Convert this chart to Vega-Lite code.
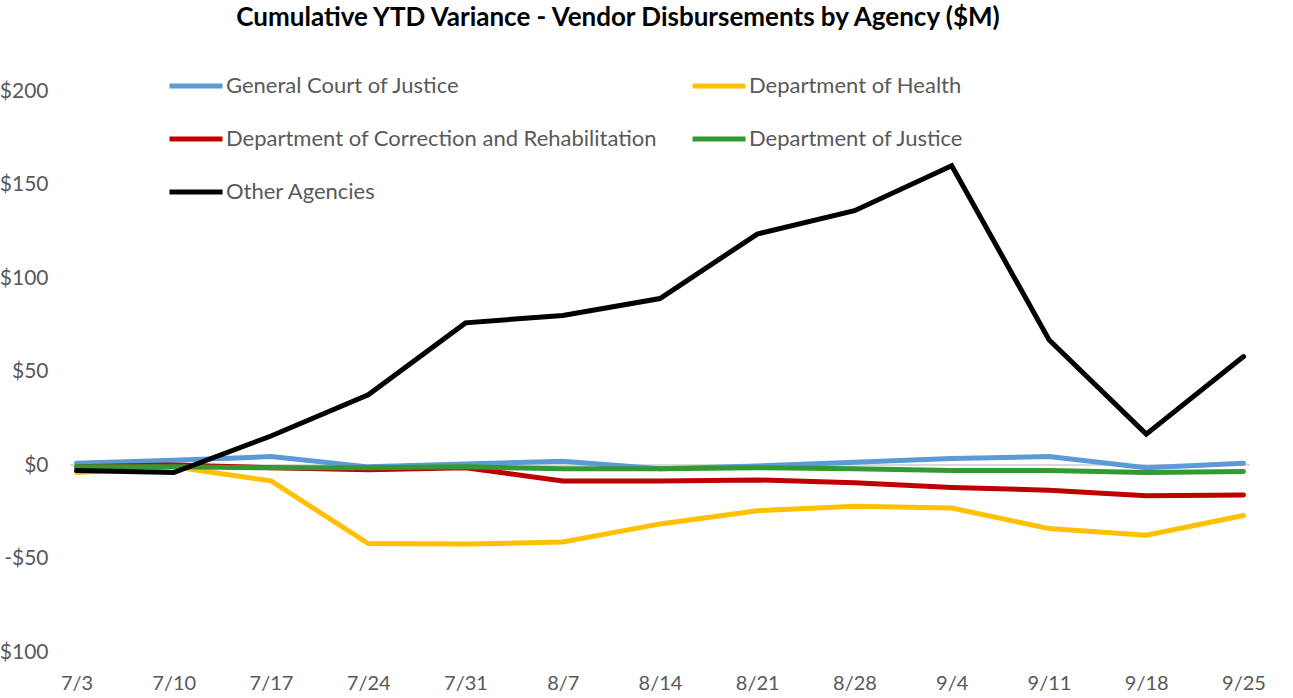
{
  "$schema": "https://vega.github.io/schema/vega-lite/v6.json",
  "width": 1180,
  "height": 561,
  "autosize": {"type": "none"},
  "padding": {"left": 70, "top": 91, "right": 43, "bottom": 46},
  "background": "white",
  "title": {
    "text": "Cumulative YTD Variance - Vendor Disbursements by Agency ($M)",
    "font": "Lato",
    "fontSize": 26,
    "fontWeight": "bold",
    "color": "#000000",
    "anchor": "middle",
    "dx": -42,
    "offset": 26
  },
  "config": {
    "view": {"stroke": null},
    "font": "Lato"
  },
  "data": {
    "values": [
      {"week": "7/3", "agency": "General Court of Justice", "value": 1},
      {"week": "7/10", "agency": "General Court of Justice", "value": 2.5},
      {"week": "7/17", "agency": "General Court of Justice", "value": 4.5},
      {"week": "7/24", "agency": "General Court of Justice", "value": -1},
      {"week": "7/31", "agency": "General Court of Justice", "value": 0.5},
      {"week": "8/7", "agency": "General Court of Justice", "value": 2},
      {"week": "8/14", "agency": "General Court of Justice", "value": -2},
      {"week": "8/21", "agency": "General Court of Justice", "value": -0.5},
      {"week": "8/28", "agency": "General Court of Justice", "value": 1.5},
      {"week": "9/4", "agency": "General Court of Justice", "value": 3.5},
      {"week": "9/11", "agency": "General Court of Justice", "value": 4.5},
      {"week": "9/18", "agency": "General Court of Justice", "value": -1.5},
      {"week": "9/25", "agency": "General Court of Justice", "value": 1},
      {"week": "7/3", "agency": "Department of Health", "value": -4},
      {"week": "7/10", "agency": "Department of Health", "value": -1},
      {"week": "7/17", "agency": "Department of Health", "value": -8.5},
      {"week": "7/24", "agency": "Department of Health", "value": -42},
      {"week": "7/31", "agency": "Department of Health", "value": -42.3},
      {"week": "8/7", "agency": "Department of Health", "value": -41.2},
      {"week": "8/14", "agency": "Department of Health", "value": -31.5},
      {"week": "8/21", "agency": "Department of Health", "value": -24.5},
      {"week": "8/28", "agency": "Department of Health", "value": -22},
      {"week": "9/4", "agency": "Department of Health", "value": -23},
      {"week": "9/11", "agency": "Department of Health", "value": -34},
      {"week": "9/18", "agency": "Department of Health", "value": -37.5},
      {"week": "9/25", "agency": "Department of Health", "value": -27},
      {"week": "7/3", "agency": "Department of Correction and Rehabilitation", "value": -1},
      {"week": "7/10", "agency": "Department of Correction and Rehabilitation", "value": 0},
      {"week": "7/17", "agency": "Department of Correction and Rehabilitation", "value": -1.5},
      {"week": "7/24", "agency": "Department of Correction and Rehabilitation", "value": -2.5},
      {"week": "7/31", "agency": "Department of Correction and Rehabilitation", "value": -1.5},
      {"week": "8/7", "agency": "Department of Correction and Rehabilitation", "value": -8.5},
      {"week": "8/14", "agency": "Department of Correction and Rehabilitation", "value": -8.5},
      {"week": "8/21", "agency": "Department of Correction and Rehabilitation", "value": -8},
      {"week": "8/28", "agency": "Department of Correction and Rehabilitation", "value": -9.5},
      {"week": "9/4", "agency": "Department of Correction and Rehabilitation", "value": -12},
      {"week": "9/11", "agency": "Department of Correction and Rehabilitation", "value": -13.5},
      {"week": "9/18", "agency": "Department of Correction and Rehabilitation", "value": -16.5},
      {"week": "9/25", "agency": "Department of Correction and Rehabilitation", "value": -16},
      {"week": "7/3", "agency": "Department of Justice", "value": -1},
      {"week": "7/10", "agency": "Department of Justice", "value": -1},
      {"week": "7/17", "agency": "Department of Justice", "value": -1.5},
      {"week": "7/24", "agency": "Department of Justice", "value": -1.5},
      {"week": "7/31", "agency": "Department of Justice", "value": -1},
      {"week": "8/7", "agency": "Department of Justice", "value": -2},
      {"week": "8/14", "agency": "Department of Justice", "value": -2},
      {"week": "8/21", "agency": "Department of Justice", "value": -1.5},
      {"week": "8/28", "agency": "Department of Justice", "value": -2},
      {"week": "9/4", "agency": "Department of Justice", "value": -3},
      {"week": "9/11", "agency": "Department of Justice", "value": -3},
      {"week": "9/18", "agency": "Department of Justice", "value": -4},
      {"week": "9/25", "agency": "Department of Justice", "value": -3.5},
      {"week": "7/3", "agency": "Other Agencies", "value": -3},
      {"week": "7/10", "agency": "Other Agencies", "value": -4},
      {"week": "7/17", "agency": "Other Agencies", "value": 15.5},
      {"week": "7/24", "agency": "Other Agencies", "value": 37.5},
      {"week": "7/31", "agency": "Other Agencies", "value": 76},
      {"week": "8/7", "agency": "Other Agencies", "value": 80},
      {"week": "8/14", "agency": "Other Agencies", "value": 89},
      {"week": "8/21", "agency": "Other Agencies", "value": 123.5},
      {"week": "8/28", "agency": "Other Agencies", "value": 136},
      {"week": "9/4", "agency": "Other Agencies", "value": 160},
      {"week": "9/11", "agency": "Other Agencies", "value": 67},
      {"week": "9/18", "agency": "Other Agencies", "value": 16.5},
      {"week": "9/25", "agency": "Other Agencies", "value": 58}
    ]
  },
  "encoding": {
    "x": {
      "field": "week",
      "type": "nominal",
      "sort": null,
      "scale": {"type": "point", "padding": 0.067},
      "axis": {
        "title": null,
        "labelAngle": 0,
        "labelFontSize": 20,
        "labelColor": "#595959",
        "labelFont": "Lato",
        "ticks": false,
        "domain": false,
        "labelPadding": 21
      }
    },
    "y": {
      "field": "value",
      "type": "quantitative",
      "scale": {"domain": [-100, 200], "nice": false, "zero": false},
      "axis": {
        "title": null,
        "values": [-100, -50, 0, 50, 100, 150, 200],
        "labelExpr": "datum.value < 0 ? '-$' + abs(datum.value) : '$' + datum.value",
        "labelFontSize": 21,
        "labelColor": "#595959",
        "labelFont": "Lato",
        "grid": false,
        "ticks": false,
        "domain": false,
        "labelPadding": 22
      }
    }
  },
  "layer": [
    {
      "mark": {"type": "rule", "color": "#d9d9d9", "strokeWidth": 1.5},
      "encoding": {"x": null, "y": {"datum": 0, "type": "quantitative"}}
    },
    {
      "mark": {"type": "line", "strokeWidth": 5, "strokeCap": "round", "strokeJoin": "miter"},
      "encoding": {
        "color": {
          "field": "agency",
          "type": "nominal",
          "sort": null,
          "scale": {
            "domain": ["General Court of Justice", "Department of Health", "Department of Correction and Rehabilitation", "Department of Justice", "Other Agencies"],
            "range": ["#5B9BD5", "#FFC000", "#C00000", "#339933", "#000000"]
          },
          "legend": {
            "title": null,
            "orient": "none",
            "legendX": 97,
            "legendY": -34,
            "columns": 2,
            "direction": "horizontal",
            "symbolType": "stroke",
            "symbolSize": 2809,
            "symbolStrokeWidth": 5,
            "labelFontSize": 22,
            "labelFont": "Lato",
            "labelColor": "#595959",
            "labelOffset": 1,
            "labelLimit": 0,
            "rowPadding": 13,
            "columnPadding": 25
          }
        }
      }
    }
  ]
}
